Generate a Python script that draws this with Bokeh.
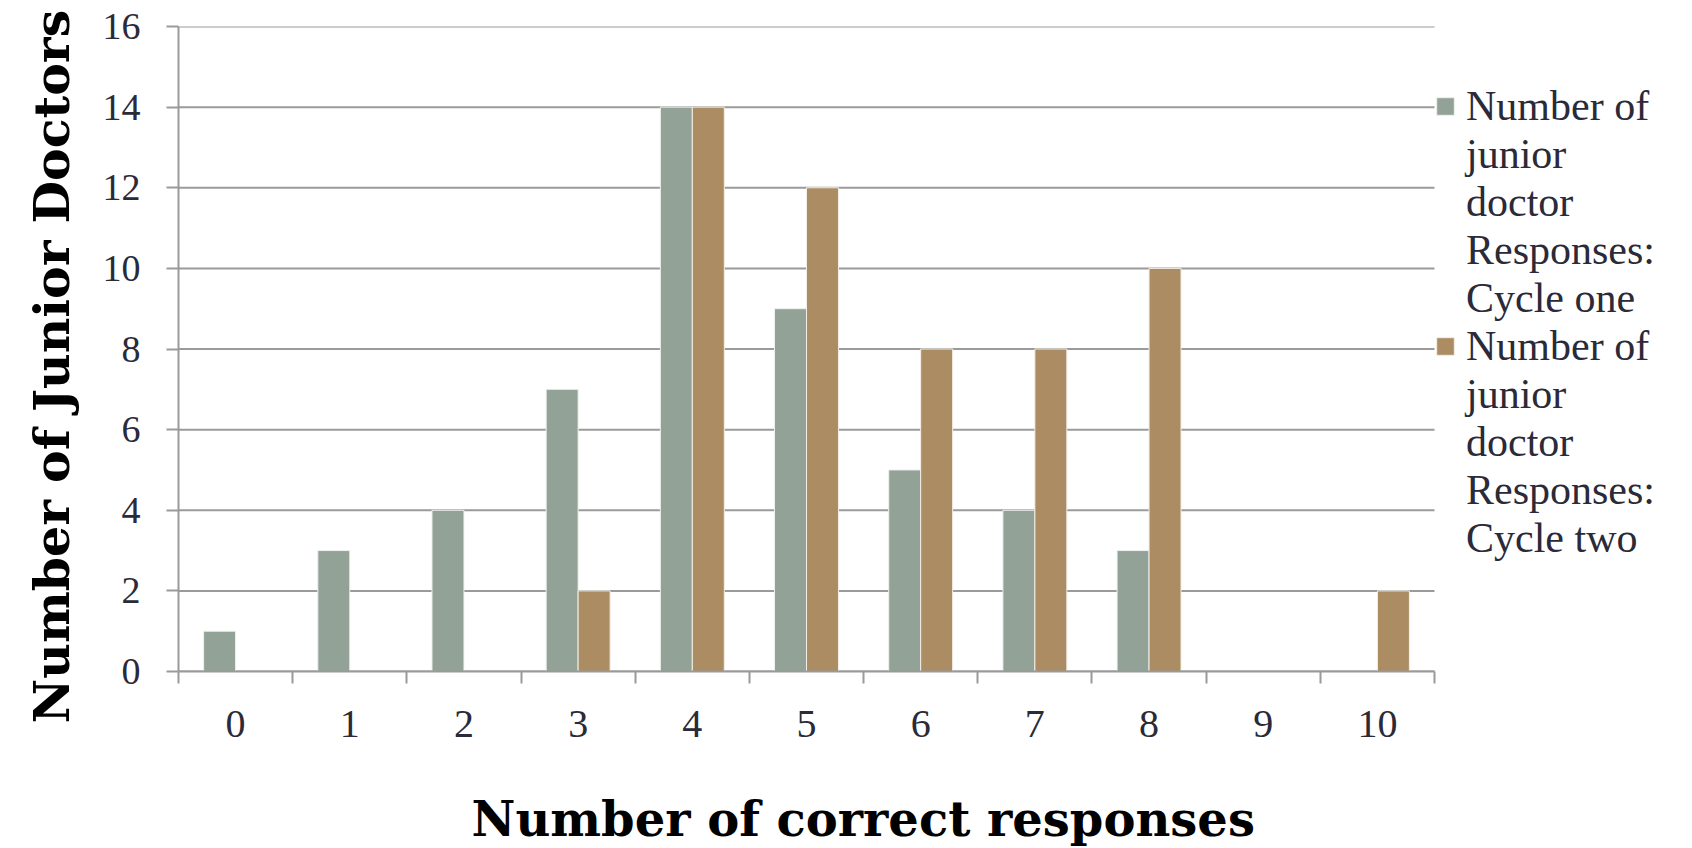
from bokeh.plotting import figure
from bokeh.models import Range1d, FixedTicker, Legend, LegendItem, Title
from bokeh.embed import file_html
from bokeh.resources import INLINE

categories = ["0", "1", "2", "3", "4", "5", "6", "7", "8", "9", "10"]
cycle_one = [1, 3, 4, 7, 14, 9, 5, 4, 3, 0, 0]
cycle_two = [0, 0, 0, 2, 14, 12, 8, 8, 10, 0, 2]
series_labels = [
    ["Number of", "junior", "doctor", "Responses:", "Cycle one"],
    ["Number of", "junior", "doctor", "Responses:", "Cycle two"],
]
y_ticks = [0, 2, 4, 6, 8, 10, 12, 14, 16]
x_title = "Number of correct responses"
y_title = "Number of Junior Doctors"

GRID = "#9a9a9a"
TXT = "#2a2a38"
C1 = "#92a297"
C2 = "#ab8c63"

n = len(categories)
xs = list(range(n))

# plot area 1256px wide for the 11 categories; the frame is extended to the
# right edge so that the legend can sit beside the bars
W, H, LEFT, TOP, BOTTOM, PLOT_W = 1692, 848, 178, 26, 177, 1256
x_end = -0.5 + n * (W - LEFT) / PLOT_W

p = figure(width=W, height=H, output_backend="svg", toolbar_location=None,
           x_range=Range1d(-0.5, x_end), y_range=Range1d(0, 16),
           min_border_left=LEFT, min_border_right=0, min_border_top=TOP,
           min_border_bottom=BOTTOM)
p.outline_line_color = None
p.background_fill_color = "white"
p.border_fill_color = "white"

# horizontal grid lines limited to the category area
p.segment(x0=[-0.5] * len(y_ticks), x1=[n - 0.5] * len(y_ticks), y0=y_ticks,
          y1=y_ticks, line_color=GRID, line_width=2)

bw = 0.28
r1 = p.vbar(x=[x - bw / 2 for x in xs], top=cycle_one, width=bw, bottom=0,
            fill_color=C1, line_color="#eef1ee", line_width=1)
r2 = p.vbar(x=[x + bw / 2 for x in xs], top=cycle_two, width=bw, bottom=0,
            fill_color=C2, line_color="#f3eee6", line_width=1)
blank = p.vbar(x=[], top=[], width=bw, fill_alpha=0, line_alpha=0)

# x axis
xa = p.xaxis[0]
xa.bounds = (-0.5, n - 0.5)
xa.ticker = FixedTicker(ticks=xs, minor_ticks=[x - 0.5 for x in range(n + 1)])
xa.major_label_overrides = {i: c for i, c in enumerate(categories)}
xa.major_tick_line_color = None
xa.major_tick_out = 0
xa.major_tick_in = 0
xa.minor_tick_line_color = GRID
xa.minor_tick_line_width = 2
xa.minor_tick_out = 12
xa.minor_tick_in = 0
xa.axis_line_color = GRID
xa.axis_line_width = 2
xa.major_label_text_font = "Liberation Serif"
xa.major_label_text_font_size = "40px"
xa.major_label_text_color = TXT
xa.major_label_standoff = 27
# invisible spacer label: pushes the title below further down
xa.axis_label = " "
xa.axis_label_text_font_size = "1px"
xa.axis_label_standoff = 43

p.add_layout(Title(text=x_title, text_font="DejaVu Serif", text_font_style="bold",
                   text_font_size="48px", text_color="black", align="left",
                   offset=293, standoff=4), "below")

# y axis
ya = p.yaxis[0]
ya.ticker = FixedTicker(ticks=y_ticks, minor_ticks=[])
ya.major_tick_line_color = GRID
ya.major_tick_line_width = 2
ya.major_tick_out = 12
ya.major_tick_in = 0
ya.minor_tick_line_color = None
ya.axis_line_color = GRID
ya.axis_line_width = 2
ya.major_label_text_font = "Liberation Serif"
ya.major_label_text_font_size = "38px"
ya.major_label_text_color = TXT
ya.major_label_standoff = 26

p.add_layout(Title(text=y_title, text_font="DejaVu Serif", text_font_style="bold",
                   text_font_size="49px", text_color="black", align="left",
                   offset=-52, standoff=38), "left")

p.xgrid.grid_line_color = None
p.ygrid.grid_line_color = None

items = []
for rend, lines in zip([r1, r2], series_labels):
    for k, line in enumerate(lines):
        items.append(LegendItem(label=line, renderers=[rend if k == 0 else blank]))

legend = Legend(items=items, location=(1256, 109))
legend.border_line_color = None
legend.background_fill_alpha = 0
legend.padding = 0
legend.margin = 0
legend.spacing = 0
legend.glyph_width = 22
legend.glyph_height = 22
legend.label_standoff = 10
legend.label_height = 44
legend.label_text_font = "Liberation Serif"
legend.label_text_font_size = "42px"
legend.label_text_baseline = "middle"
legend.label_text_color = TXT
p.add_layout(legend, "center")

open("out.html", "w").write(file_html(p, INLINE))
